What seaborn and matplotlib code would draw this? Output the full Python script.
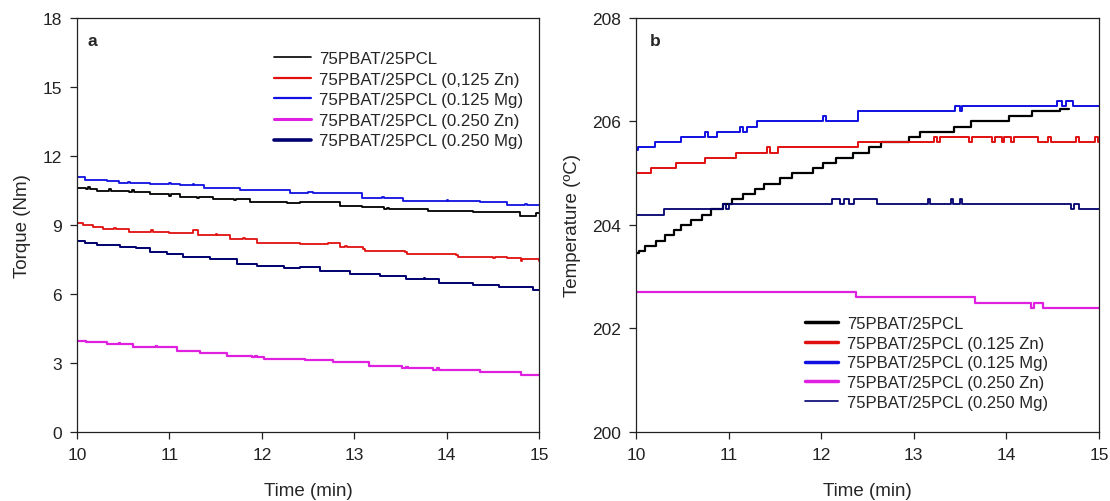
import matplotlib
matplotlib.use("Agg")
import matplotlib.pyplot as plt
import seaborn as sns
import pandas as pd

# ---------------- data ----------------
labels_a = ["75PBAT/25PCL", "75PBAT/25PCL (0,125 Zn)", "75PBAT/25PCL (0.125 Mg)",
            "75PBAT/25PCL (0.250 Zn)", "75PBAT/25PCL (0.250 Mg)"]
labels_b = ["75PBAT/25PCL", "75PBAT/25PCL (0.125 Zn)", "75PBAT/25PCL (0.125 Mg)",
            "75PBAT/25PCL (0.250 Zn)", "75PBAT/25PCL (0.250 Mg)"]
colors = ["#000000", "#e01010", "#1010e0", "#e020e0", "#000070"]

# Panel a: torque (Nm) step breakpoints
t_a_ctrl = [10.0, 10.1, 10.12, 10.14, 10.22, 10.35, 10.37, 10.56, 10.6, 10.62, 10.79, 11.0, 11.02, 11.11, 11.3, 11.32,
            11.47, 11.7, 11.72, 11.87, 12.27, 12.41, 12.85, 13.08, 13.32, 13.36, 13.38, 13.8, 14.29, 14.79, 14.97, 15.0]
y_a_ctrl = [10.59, 10.57, 10.65, 10.57, 10.49, 10.55, 10.49, 10.45, 10.5, 10.45, 10.33, 10.28, 10.33, 10.23, 10.18, 10.23,
            10.13, 10.08, 10.13, 10.01, 9.96, 9.99, 9.84, 9.77, 9.7, 9.75, 9.7, 9.6, 9.58, 9.41, 9.53, 9.53]

t_a_zn1 = [10.0, 10.06, 10.17, 10.28, 10.4, 10.42, 10.56, 10.8, 10.82, 11.0, 11.26, 11.31, 11.5, 11.52, 11.66, 11.8, 11.82,
           11.95, 12.41, 12.72, 12.85, 12.9, 12.92, 13.1, 13.12, 13.35, 13.55, 13.57, 13.8, 14.1, 14.12, 14.29, 14.5, 14.52,
           14.65, 14.8, 14.82, 15.0]
y_a_zn1 = [9.09, 9.0, 8.9, 8.83, 8.88, 8.83, 8.71, 8.76, 8.71, 8.66, 8.76, 8.57, 8.62, 8.57, 8.39, 8.45, 8.39,
           8.22, 8.17, 8.22, 8.03, 8.1, 8.03, 7.95, 7.88, 7.88, 7.82, 7.74, 7.74, 7.68, 7.62, 7.62, 7.56, 7.6,
           7.56, 7.45, 7.5, 7.42]

t_a_mg1 = [10.0, 10.09, 10.32, 10.45, 10.55, 10.57, 10.79, 11.0, 11.02, 11.11, 11.25, 11.27, 11.37, 11.76, 12.09, 12.31,
           12.5, 12.55, 13.08, 13.3, 13.32, 13.53, 13.85, 14.0, 14.02, 14.36, 14.65, 14.85, 14.87, 15.0]
y_a_mg1 = [11.07, 10.97, 10.9, 10.83, 10.88, 10.83, 10.78, 10.82, 10.78, 10.74, 10.8, 10.74, 10.61, 10.53, 10.5, 10.38,
           10.45, 10.38, 10.17, 10.22, 10.17, 10.06, 10.03, 10.08, 10.03, 9.99, 9.87, 9.93, 9.87, 9.87]

t_a_zn2 = [10.0, 10.1, 10.32, 10.45, 10.47, 10.61, 10.85, 10.87, 11.08, 11.33, 11.62, 11.89, 11.93, 11.95, 12.02, 12.45,
           12.47, 12.77, 13.16, 13.52, 13.56, 13.58, 13.85, 13.9, 13.92, 14.36, 14.81, 15.0]
y_a_zn2 = [3.97, 3.9, 3.81, 3.87, 3.81, 3.68, 3.73, 3.68, 3.51, 3.42, 3.32, 3.25, 3.3, 3.25, 3.17, 3.17,
           3.14, 3.03, 2.88, 2.79, 2.84, 2.79, 2.71, 2.76, 2.71, 2.59, 2.49, 2.49]

t_a_mg2 = [10.0, 10.09, 10.22, 10.46, 10.64, 10.79, 10.97, 11.15, 11.44, 11.73, 11.95, 12.24, 12.41, 12.63, 12.95, 13.28,
           13.56, 13.75, 13.77, 13.92, 14.29, 14.57, 14.93, 15.0]
y_a_mg2 = [8.29, 8.22, 8.13, 8.03, 8.0, 7.81, 7.74, 7.59, 7.52, 7.3, 7.23, 7.12, 7.16, 7.01, 6.87, 6.77,
           6.65, 6.7, 6.65, 6.48, 6.41, 6.32, 6.19, 6.19]

# Panel b: temperature (deg C) step breakpoints
t_b_ctrl = [10.0, 10.03, 10.1, 10.22, 10.31, 10.41, 10.49, 10.59, 10.71, 10.81, 10.94, 11.04, 11.16, 11.28, 11.38, 11.55,
            11.69, 11.91, 12.02, 12.16, 12.34, 12.52, 12.65, 12.95, 13.07, 13.44, 13.62, 14.03, 14.28, 14.58, 14.68]
y_b_ctrl = [203.45, 203.5, 203.6, 203.7, 203.8, 203.9, 204.0, 204.1, 204.2, 204.3, 204.4, 204.5, 204.6, 204.7, 204.8, 204.9,
            205.0, 205.1, 205.2, 205.3, 205.4, 205.5, 205.6, 205.7, 205.8, 205.9, 206.0, 206.1, 206.2, 206.25, 206.25]

t_b_zn1 = [10.0, 10.16, 10.43, 10.75, 11.08, 11.41, 11.45, 11.53, 12.4, 13.22, 13.25, 13.28, 13.6, 13.63, 13.85, 13.88,
           13.95, 13.98, 14.05, 14.08, 14.34, 14.45, 14.48, 14.75, 14.78, 14.96, 14.99, 15.0]
y_b_zn1 = [205.0, 205.1, 205.2, 205.3, 205.4, 205.5, 205.4, 205.5, 205.6, 205.7, 205.6, 205.7, 205.6, 205.7, 205.6, 205.7,
           205.6, 205.7, 205.6, 205.7, 205.6, 205.7, 205.6, 205.7, 205.6, 205.7, 205.6, 205.6]

t_b_mg1 = [10.0, 10.02, 10.2, 10.49, 10.74, 10.78, 10.88, 11.12, 11.16, 11.2, 11.31, 12.02, 12.05, 12.4, 13.45, 13.5,
           13.52, 14.55, 14.6, 14.65, 14.72, 15.0]
y_b_mg1 = [205.45, 205.5, 205.6, 205.7, 205.8, 205.7, 205.8, 205.9, 205.8, 205.9, 206.0, 206.1, 206.0, 206.2, 206.3, 206.2,
           206.3, 206.4, 206.3, 206.4, 206.3, 206.3]

t_b_zn2 = [10.0, 12.38, 13.66, 14.27, 14.3, 14.4, 15.0]
y_b_zn2 = [202.7, 202.6, 202.5, 202.4, 202.5, 202.4, 202.4]

t_b_mg2 = [10.0, 10.3, 10.32, 10.94, 10.97, 11.0, 12.12, 12.2, 12.25, 12.3, 12.35, 12.6, 12.65, 13.15, 13.18, 13.4, 13.42,
           13.5, 13.52, 14.7, 14.73, 14.78, 15.0]
y_b_mg2 = [204.2, 204.3, 204.3, 204.4, 204.3, 204.4, 204.5, 204.4, 204.5, 204.4, 204.5, 204.4, 204.4, 204.5, 204.4, 204.5, 204.4,
           204.5, 204.4, 204.3, 204.4, 204.3, 204.3]

series_a = [(t_a_ctrl, y_a_ctrl), (t_a_zn1, y_a_zn1), (t_a_mg1, y_a_mg1), (t_a_zn2, y_a_zn2), (t_a_mg2, y_a_mg2)]
series_b = [(t_b_ctrl, y_b_ctrl), (t_b_zn1, y_b_zn1), (t_b_mg1, y_b_mg1), (t_b_zn2, y_b_zn2), (t_b_mg2, y_b_mg2)]

x_ticks = [10, 11, 12, 13, 14, 15]
y_ticks_a = [0, 3, 6, 9, 12, 15, 18]
y_ticks_b = [200, 202, 204, 206, 208]

# ---------------- style ----------------
sns.set_style("ticks")
plt.rcParams["font.family"] = ["Liberation Sans", "DejaVu Sans"]

fig = plt.figure(figsize=(11.1, 5.02), dpi=100)
ax_a = fig.add_axes([0.0694, 0.1375, 0.4162, 0.8247])
ax_b = fig.add_axes([0.573, 0.1375, 0.417, 0.8247])

lw_a = [1.3, 1.3, 1.3, 1.6, 1.4]
for (t, y), lab, c, lw in zip(series_a, labels_a, colors, lw_a):
    df = pd.DataFrame({"t": t, "y": y})
    sns.lineplot(data=df, x="t", y="y", ax=ax_a, color=c, lw=lw, label=lab,
                 drawstyle="steps-post", estimator=None, sort=False)

lw_b = [1.6, 1.4, 1.4, 1.6, 1.3]
for (t, y), lab, c, lw in zip(series_b, labels_b, colors, lw_b):
    df = pd.DataFrame({"t": t, "y": y})
    sns.lineplot(data=df, x="t", y="y", ax=ax_b, color=c, lw=lw, label=lab,
                 drawstyle="steps-post", estimator=None, sort=False)

for ax, yt, lim, ylabel in [(ax_a, y_ticks_a, (0, 18), "Torque (Nm)"),
                            (ax_b, y_ticks_b, (200, 208), "Temperature (ºC)")]:
    ax.set_xlim(10, 15)
    ax.set_ylim(*lim)
    ax.set_xticks(x_ticks)
    ax.set_yticks(yt)
    ax.tick_params(direction="out", length=5, width=0.9, labelsize=12.5, colors="#222222")
    ax.tick_params(axis="x", pad=6)
    ax.tick_params(axis="y", pad=6)
    ax.set_xlabel("Time (min)", fontsize=13.5, labelpad=14)
    ax.set_ylabel(ylabel, fontsize=13.5, labelpad=8)
    for s in ax.spines.values():
        s.set_linewidth(0.9)
        s.set_color("#222222")

ax_a.text(0.022, 0.945, "a", transform=ax_a.transAxes, fontsize=12.5, fontweight="bold", va="center")
ax_b.text(0.03, 0.945, "b", transform=ax_b.transAxes, fontsize=12.5, fontweight="bold", va="center")

leg_a = ax_a.legend(loc="upper left", bbox_to_anchor=(0.426, 0.92), frameon=False, fontsize=12.2,
                    handlelength=2.2, labelspacing=0.33, handletextpad=0.47, borderaxespad=0, borderpad=0)
leg_b = ax_b.legend(loc="upper left", bbox_to_anchor=(0.365, 0.28), frameon=False, fontsize=12.0,
                    handlelength=2.0, labelspacing=0.28, handletextpad=0.55, borderaxespad=0, borderpad=0)
for h, w in zip(leg_b.get_lines(), [2.5, 2.5, 2.5, 2.5, 1.2]):
    h.set_linewidth(w)
for h, w in zip(leg_a.get_lines(), [1.2, 1.6, 1.6, 2.2, 2.6]):
    h.set_linewidth(w)

fig.savefig("out.png", dpi=100)
